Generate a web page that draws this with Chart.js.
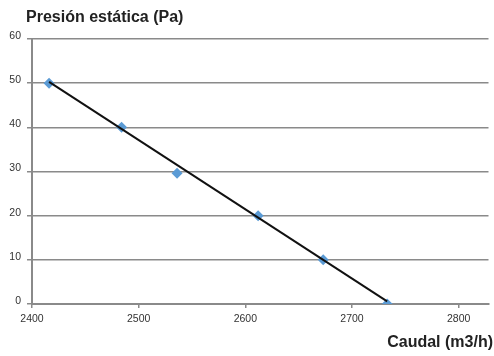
<!DOCTYPE html>
<html><head><meta charset="utf-8">
<script src="https://cdn.jsdelivr.net/npm/chart.js@4.4.0/dist/chart.umd.min.js"></script>
<style>html,body{margin:0;padding:0;background:#fff}#wrap{width:494px;height:356px}</style>
</head><body><div id="wrap"><canvas id="c" width="494" height="356"></canvas></div>
<script>
const flowValues = [2416, 2484, 2536, 2612, 2673, 2733];
const pressureValues = [50, 40, 29.6, 20, 10, 0];
const trendFlow = [2416, 2733];
const trendPressure = [50.3, 0.6];
const xMin = 2400, xMax = 2828, xStep = 100;
const yMin = 0, yMax = 60, yStep = 10;
const yTitle = 'Presión estática (Pa)';
const xTitle = 'Caudal (m3/h)';

const titles = {
  id: 'titles',
  afterDraw(chart) {
    const ctx = chart.ctx;
    ctx.save();
    ctx.fillStyle = '#222';
    ctx.font = 'bold 16px "Liberation Sans", Arial, sans-serif';
    ctx.textBaseline = 'middle';
    ctx.textAlign = 'left';
    ctx.fillText(yTitle, 26, 18);
    ctx.textAlign = 'right';
    ctx.fillText(xTitle, 493, 343);
    ctx.restore();
  }
};

new Chart(document.getElementById('c'), {
  type: 'scatter',
  data: {
    datasets: [
      {
        type: 'line',
        data: trendFlow.map((x, i) => ({x, y: trendPressure[i]})),
        borderColor: '#111',
        borderWidth: 2,
        pointRadius: 0,
        fill: false,
        tension: 0
      },
      {
        data: flowValues.map((x, i) => ({x, y: pressureValues[i]})),
        pointStyle: 'rectRot',
        pointRadius: 5.5,
        backgroundColor: '#5B9BD5',
        borderColor: '#5B9BD5',
        borderWidth: 0
      }
    ]
  },
  options: {
    responsive: false,
    animation: false,
    layout: {padding: {top: 39, right: 3, left: 0, bottom: 0}},
    plugins: {legend: {display: false}, tooltip: {enabled: false}},
    scales: {
      x: {
        type: 'linear', min: xMin, max: xMax,
        afterFit(s) { s.height = 52; },
        ticks: {stepSize: xStep, includeBounds: false, color: '#333', padding: 5,
          callback: v => String(v),
          font: {family: '"Liberation Sans", Arial, sans-serif', size: 10.5}, maxRotation: 0},
        grid: {drawOnChartArea: false, drawTicks: true, tickLength: 4, color: '#8a8a8a', lineWidth: 1.5},
        border: {display: true, color: '#8a8a8a', width: 2}
      },
      y: {
        type: 'linear', min: yMin, max: yMax,
        afterFit(s) { s.width = 32; },
        ticks: {stepSize: yStep, color: '#333', padding: 6, labelOffset: -3,
          callback: v => String(v),
          font: {family: '"Liberation Sans", Arial, sans-serif', size: 10.5}},
        grid: {color: '#8a8a8a', lineWidth: 1.5, tickLength: 5, drawTicks: true},
        border: {display: true, color: '#8a8a8a', width: 2}
      }
    }
  },
  plugins: [titles]
});
</script></body></html>
